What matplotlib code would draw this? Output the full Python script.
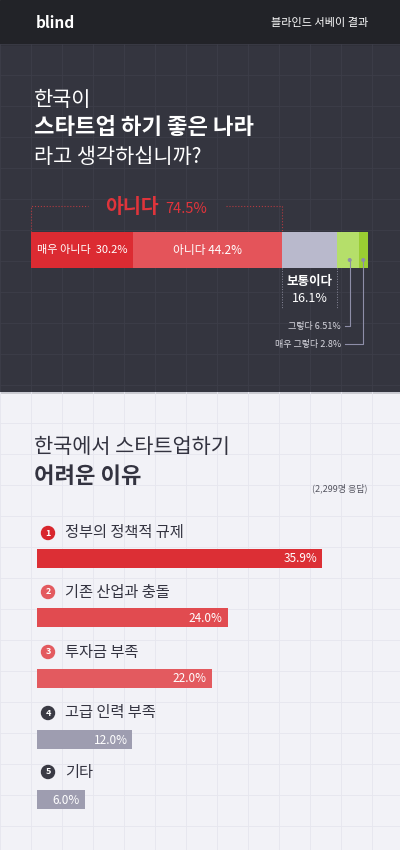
import matplotlib.pyplot as plt
from matplotlib.patches import Rectangle, Circle

plt.rcParams['font.family'] = ['Noto Sans CJK KR', 'DejaVu Sans']

# survey: is Korea a good country for startups
answer_labels = ['매우 아니다', '아니다', '보통이다', '그렇다', '매우 그렇다']
answer_values = [30.2, 44.2, 16.1, 6.51, 2.8]
answer_colors = ['#dc2b32', '#e4545a', '#b9b9cc', '#b5df6a', '#9acd32']

# reasons it is hard
reason_labels = ['정부의 정책적 규제', '기존 산업과 충돌', '투자금 부족', '고급 인력 부족', '기타']
reason_values = [35.9, 24.0, 22.0, 12.0, 6.0]
reason_colors = ['#dc2f35', '#e14b50', '#e35a5f', '#9e9db0', '#9e9db0']
badge_colors = ['#d8262d', '#e35a5f', '#e35a5f', '#3a3a44', '#3a3a44']

W, H = 400, 850
fig = plt.figure(figsize=(4, 8.5), dpi=100)


def pixel_axes(z):
    ax = fig.add_axes([0, 0, 1, 1])
    ax.set_xlim(0, W)
    ax.set_ylim(H, 0)
    ax.axis('off')
    ax.set_zorder(z)
    return ax


back = pixel_axes(0)
bg = pixel_axes(5)   # text overlay

# backgrounds
back.add_patch(Rectangle((0, 392), W, H - 392, color='#f2f2f7', zorder=0))
back.add_patch(Rectangle((0, 44), W, 348, color='#34353f', zorder=0))
back.add_patch(Rectangle((0, 0), W, 44, color='#222328', zorder=0))
for gx in range(0, W, 31):
    back.plot([gx, gx], [44, 392], color='#3d3e49', lw=0.6, zorder=0.5)
    back.plot([gx, gx], [392, H], color='#e6e6ee', lw=0.6, zorder=0.5)
for gy in range(44, 392, 31):
    back.plot([0, W], [gy, gy], color='#3d3e49', lw=0.6, zorder=0.5)
for gy in range(392, H, 31):
    back.plot([0, W], [gy, gy], color='#e6e6ee', lw=0.6, zorder=0.5)

# header
bg.text(36, 23, 'blind', color='white', fontsize=11, fontweight='bold', va='center')
bg.text(368, 23, '블라인드 서베이 결과', color='white', fontsize=8, va='center', ha='right')

# title
bg.text(34, 100, '한국이', color='white', fontsize=15, va='center')
bg.text(34, 127, '스타트업 하기 좋은 나라', color='white', fontsize=16, fontweight='bold', va='center')
bg.text(34, 157, '라고 생각하십니까?', color='white', fontsize=15, va='center')

# stacked bar
x0, x1, y0, y1 = 31, 368, 232, 268
sax = fig.add_axes([x0 / W, 1 - y1 / H, (x1 - x0) / W, (y1 - y0) / H])
sax.set_zorder(2)
left = 0
for v, c in zip(answer_values, answer_colors):
    sax.barh(0, v, left=left, color=c, height=1)
    left += v
sax.set_xlim(0, sum(answer_values))
sax.set_ylim(-0.5, 0.5)
sax.axis('off')


def px(v):
    return x0 + v / sum(answer_values) * (x1 - x0)


bg.text((px(0) + px(30.2)) / 2, 250, '매우 아니다  30.2%', color='white', fontsize=8,
        ha='center', va='center')
bg.text((px(30.2) + px(74.4)) / 2, 250, '아니다 44.2%', color='white', fontsize=8.5,
        ha='center', va='center')

# 아니다 bracket
no_end = px(74.4)
bg.plot([x0, x0, 88], [232, 206, 206], color='#b33a40', lw=0.8, ls=':')
bg.plot([226, no_end, no_end], [206, 206, 232], color='#b33a40', lw=0.8, ls=':')
bg.text(105, 207, '아니다', color='#e0343b', fontsize=14, fontweight='bold', va='center')
bg.text(165, 209, '74.5%', color='#e0343b', fontsize=10.5, va='center')

# 보통이다
m0, m1 = px(74.4), px(90.5)
bg.plot([m0, m0], [268, 308], color='#888899', lw=0.7, ls=':')
bg.plot([m1, m1], [268, 308], color='#888899', lw=0.7, ls=':')
bg.text((m0 + m1) / 2, 282, '보통이다', color='white', fontsize=9, fontweight='bold',
        ha='center', va='center')
bg.text((m0 + m1) / 2, 298, '16.1%', color='white', fontsize=9, ha='center', va='center')

# 그렇다 / 매우 그렇다 leaders
a = (px(90.6) + px(97.0)) / 2 + 2
b = (px(97.0) + px(99.81)) / 2
bg.plot([a, a, 345], [260, 326, 326], color='#8e8ea8', lw=0.8)
bg.plot([b, b, 345], [260, 344, 344], color='#8e8ea8', lw=0.8)
bg.add_patch(Circle((a, 260), 1.3, color='#8e8ea8'))
bg.add_patch(Circle((b, 260), 1.3, color='#8e8ea8'))
bg.text(341, 326, '그렇다 6.51%', color='#d8d8e0', fontsize=6.5, ha='right', va='center')
bg.text(341, 344, '매우 그렇다 2.8%', color='#d8d8e0', fontsize=6.5, ha='right', va='center')

# second section title
bg.text(34, 447, '한국에서 스타트업하기', color='#333340', fontsize=15, va='center')
bg.text(34, 476, '어려운 이유', color='#333340', fontsize=16, fontweight='bold', va='center')
bg.text(368, 488, '(2,299명 응답)', color='#555560', fontsize=6.5, ha='right', va='center')

# ranking bars
label_y = [533, 592, 652, 713, 772]
bar_y = [558, 617, 678, 739, 799]
bx0, bx1 = 37, 322
scale = (bx1 - bx0) / reason_values[0]
rax = fig.add_axes([bx0 / W, 0, (W - bx0) / W, 1])
rax.set_zorder(3)
rax.set_ylim(H, 0)
rax.set_xlim(0, (W - bx0) / scale)
rax.axis('off')
for i, (lab, v, c, bc) in enumerate(zip(reason_labels, reason_values, reason_colors, badge_colors)):
    rax.barh(bar_y[i], v, height=19, color=c)
    rax.text(v - 0.6, bar_y[i] + 1, f'{v:.1f}%', color='white', fontsize=8.5,
             ha='right', va='center')
    bg.add_patch(Circle((48, label_y[i]), 6.5, color=bc))
    bg.text(48, label_y[i], str(i + 1), color='white', fontsize=6.5, fontweight='bold',
            ha='center', va='center')
    bg.text(65, label_y[i], lab, color='#333340', fontsize=11, va='center')

fig.savefig('out.png', dpi=100)
